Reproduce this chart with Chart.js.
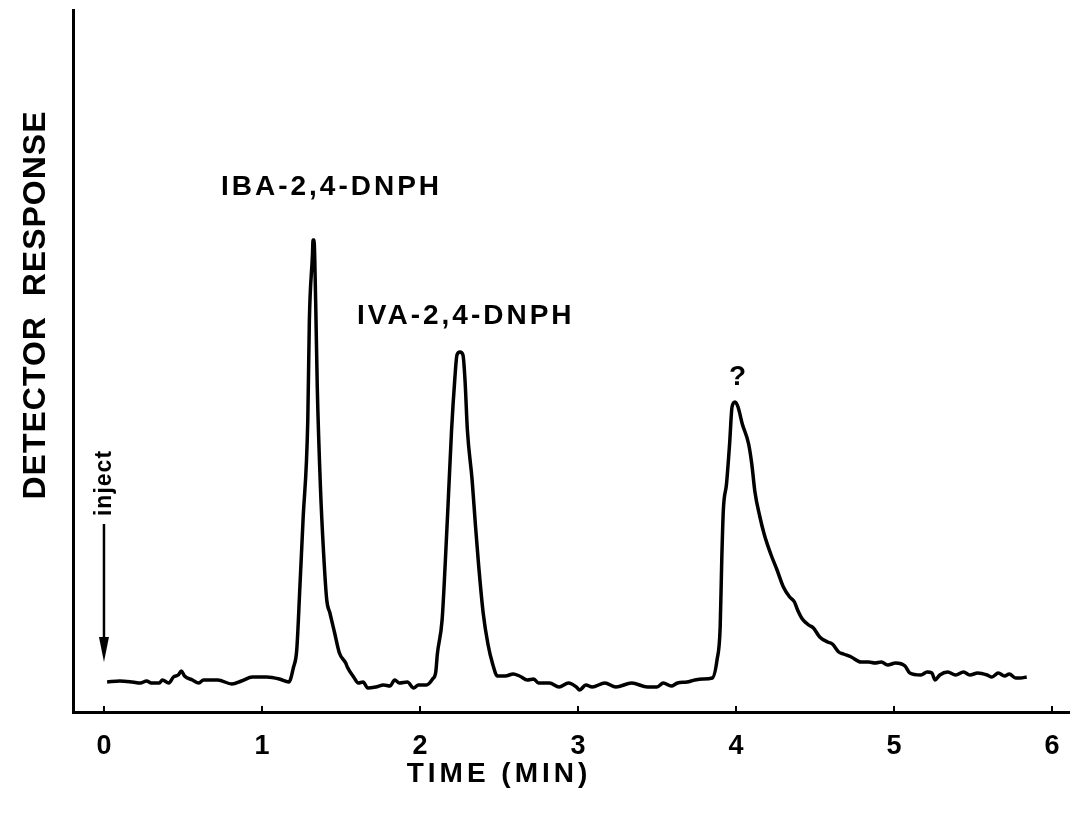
<!DOCTYPE html>
<html lang="en">
<head>
    <meta charset="UTF-8">
    <title>Chromatogram</title>
    <style>
        html, body { margin: 0; padding: 0; background: #fff; }
        #wrap { width: 1070px; height: 816px; }
    </style>
</head>
<body>
    <div id="wrap"><canvas id="myChart" width="1070" height="816"></canvas></div>
</body>
<script src="https://cdn.jsdelivr.net/npm/chart.js@4.4.0/dist/chart.umd.min.js"></script>
<script>
    // time in minutes, response in arbitrary detector units
    var tiempo = [
        0.02, 0.10, 0.18, 0.23, 0.27, 0.30, 0.35, 0.37, 0.41, 0.44, 0.47, 0.49, 0.51, 0.56, 0.60, 0.63,
        0.72, 0.81, 0.87, 0.94, 1.03, 1.11, 1.17, 1.20, 1.22, 1.24, 1.26, 1.29, 1.30, 1.32, 1.323, 1.329,
        1.34, 1.35, 1.37, 1.39, 1.41, 1.43, 1.46, 1.49, 1.53, 1.54, 1.58, 1.61, 1.64, 1.67, 1.72, 1.77,
        1.81, 1.84, 1.87, 1.92, 1.96, 1.99, 2.04, 2.08, 2.10, 2.11, 2.14, 2.16, 2.18, 2.20, 2.22, 2.234,
        2.253, 2.272, 2.285, 2.30, 2.33, 2.35, 2.37, 2.40, 2.43, 2.46, 2.49, 2.54, 2.59, 2.63, 2.68, 2.72,
        2.75, 2.82, 2.88, 2.94, 2.99, 3.01, 3.05, 3.09, 3.17, 3.24, 3.34, 3.44, 3.50, 3.54, 3.59, 3.63,
        3.69, 3.74, 3.79, 3.85, 3.88, 3.90, 3.91, 3.92, 3.94, 3.96, 3.975, 3.994, 4.013, 4.04, 4.08, 4.10,
        4.12, 4.15, 4.18, 4.22, 4.26, 4.30, 4.34, 4.37, 4.39, 4.42, 4.46, 4.49, 4.53, 4.58, 4.61, 4.65,
        4.68, 4.73, 4.79, 4.84, 4.88, 4.92, 4.96, 5.01, 5.07, 5.10, 5.17, 5.21, 5.24, 5.26, 5.29, 5.34,
        5.39, 5.44, 5.48, 5.53, 5.59, 5.62, 5.66, 5.70, 5.73, 5.77, 5.80, 5.84
    ];
    var respuesta = [
        30, 31, 30, 29, 31, 29, 29, 32, 29, 35, 37, 41, 36, 32, 29, 32,
        32, 28, 31, 35, 35, 33, 30, 45, 62, 125, 192, 292, 392, 459, 472, 472,
        409, 325, 225, 159, 112, 99, 79, 59, 49, 45, 35, 29, 30, 24, 25, 27,
        26, 32, 29, 30, 24, 27, 27, 33, 40, 58, 92, 149, 215, 282, 332, 357,
        360, 357, 332, 282, 232, 189, 149, 99, 68, 48, 36, 36, 38, 36, 32, 33,
        29, 29, 25, 29, 25, 22, 27, 25, 29, 25, 29, 25, 25, 29, 26, 29,
        30, 32, 33, 34, 52, 85, 152, 202, 228, 269, 305, 310, 305, 288, 268, 248,
        220, 196, 177, 158, 142, 125, 115, 110, 102, 93, 87, 84, 75, 70, 68, 60,
        58, 55, 50, 50, 49, 50, 47, 49, 46, 39, 37, 40, 39, 32, 37, 40,
        37, 40, 37, 39, 37, 35, 39, 36, 38, 34, 34, 35
    ];
    var marcasX = [0, 1, 2, 3, 4, 5, 6];
    var picos = ['IBA-2,4-DNPH', 'IVA-2,4-DNPH', '?'];

    var fuente = '"Liberation Sans", Arial, Helvetica, sans-serif';

    var puntos = tiempo.map(function (t, i) { return { x: t, y: respuesta[i] }; });

    // text, inward ticks and the inject arrow
    var textos = {
        id: 'textos',
        afterDraw: function (chart) {
            var ctx = chart.ctx;
            var sx = chart.scales.x;
            var area = chart.chartArea;
            ctx.save();
            ctx.fillStyle = '#000';
            ctx.strokeStyle = '#000';

            // small ticks pointing up into the plot
            ctx.lineWidth = 2;
            marcasX.forEach(function (v) {
                var px = sx.getPixelForValue(v);
                ctx.beginPath();
                ctx.moveTo(px, area.bottom);
                ctx.lineTo(px, area.bottom - 6);
                ctx.stroke();
            });

            ctx.textAlign = 'center';
            ctx.textBaseline = 'middle';
            ctx.letterSpacing = '3px';
            ctx.font = 'bold 28px ' + fuente;
            ctx.fillText(picos[0], sx.getPixelForValue(1.44), 187);
            ctx.fillText(picos[1], sx.getPixelForValue(2.29), 316);
            ctx.fillText(picos[2], sx.getPixelForValue(4.02), 377);

            // x title
            ctx.letterSpacing = '4px';
            ctx.fillText('TIME (MIN)', 499, 774);

            // y title
            ctx.letterSpacing = '1px';
            ctx.save();
            ctx.translate(36, 305);
            ctx.rotate(-Math.PI / 2);
            ctx.font = 'bold 32px ' + fuente;
            ctx.fillText('DETECTOR  RESPONSE', 0, 0);
            ctx.restore();

            // inject label and arrow
            var x0 = sx.getPixelForValue(0);
            ctx.letterSpacing = '1px';
            ctx.save();
            ctx.translate(x0 + 1, 483);
            ctx.rotate(-Math.PI / 2);
            ctx.font = 'bold 23px ' + fuente;
            ctx.fillText('inject', 0, 0);
            ctx.restore();

            ctx.lineWidth = 2.5;
            ctx.beginPath();
            ctx.moveTo(x0, 524);
            ctx.lineTo(x0, 645);
            ctx.stroke();
            ctx.beginPath();
            ctx.moveTo(x0 - 5, 637);
            ctx.lineTo(x0 + 5, 637);
            ctx.lineTo(x0, 662);
            ctx.closePath();
            ctx.fill();
            ctx.restore();
        }
    };

    var ctx = document.getElementById('myChart').getContext('2d');
    var myChart = new Chart(ctx, {
        type: 'line',
        data: {
            datasets: [{
                data: puntos,
                borderColor: '#000',
                borderWidth: 3.5,
                pointRadius: 0,
                fill: false,
                cubicInterpolationMode: 'monotone'
            }]
        },
        options: {
            responsive: false,
            animation: false,
            layout: { padding: { left: 0, top: 10, right: 0, bottom: 0 } },
            plugins: {
                legend: { display: false },
                tooltip: { enabled: false }
            },
            scales: {
                x: {
                    type: 'linear',
                    min: -0.196,
                    max: 6.114,
                    afterBuildTicks: function (s) {
                        s.ticks = marcasX.map(function (v) { return { value: v }; });
                    },
                    afterFit: function (s) {
                        s.height = 104;
                        s.paddingLeft = 0;
                        s.paddingRight = 0;
                    },
                    grid: { drawOnChartArea: false, drawTicks: false },
                    border: { display: true, color: '#000', width: 3 },
                    ticks: {
                        color: '#000',
                        padding: 18,
                        maxRotation: 0,
                        font: { family: fuente, size: 27, weight: 'bold' }
                    }
                },
                y: {
                    min: 0,
                    max: 702,
                    afterFit: function (s) { s.width = 73; },
                    grid: { drawOnChartArea: false, drawTicks: false },
                    border: { display: true, color: '#000', width: 3 },
                    ticks: { display: false }
                }
            }
        },
        plugins: [textos]
    });
</script>
</html>
